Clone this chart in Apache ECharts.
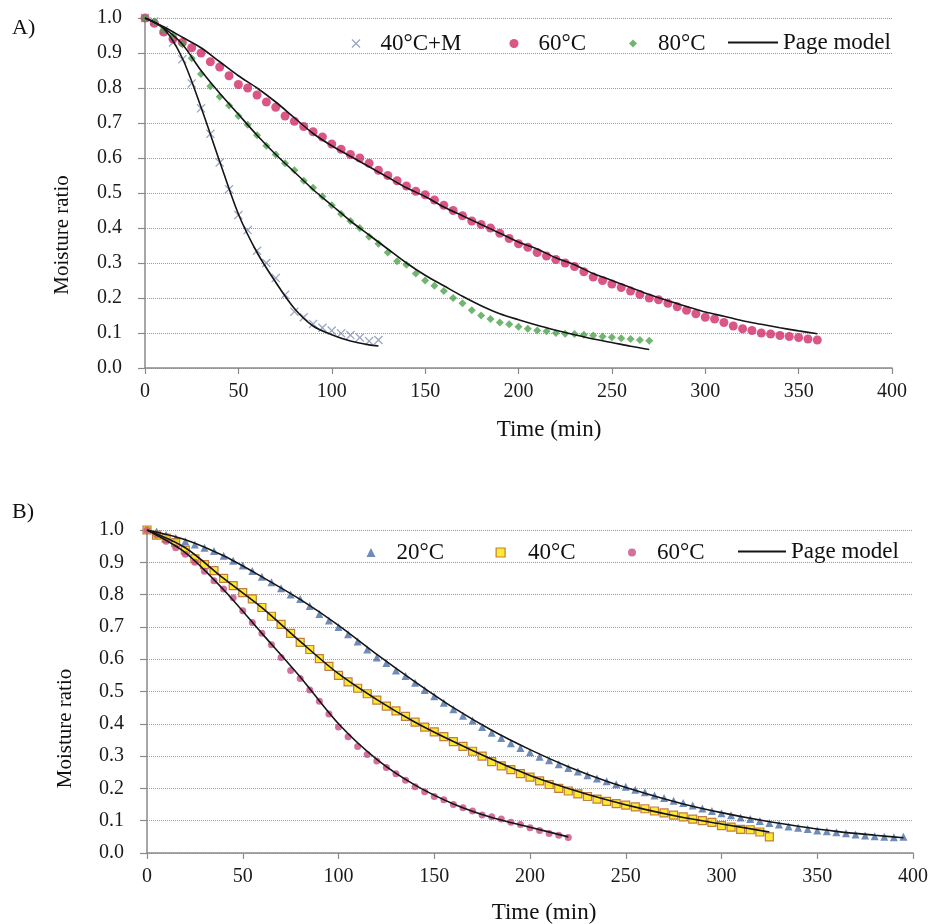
<!DOCTYPE html>
<html>
<head>
<meta charset="utf-8">
<script src="https://cdn.jsdelivr.net/npm/echarts/dist/echarts.min.js"></script>
<style>html,body{margin:0;padding:0;background:#fff}#c{width:930px;height:924px}</style>
</head>
<body>
<div id="c"></div>
<script>
// ---------- data ----------
const time5 = [0,5,10,15,20,25,30,35,40,45,50,55,60,65,70,75,80,85,90,95,100,105,110,115,120,125,130,135,140,145,150,155,160,165,170,175,180,185,190,195,200,205,210,215,220,225,230,235,240,245,250,255,260,265,270,275,280,285,290,295,300,305,310,315,320,325,330,335,340,345,350,355,360,365,370,375,380,385,390,395];
const xTicks = [0,50,100,150,200,250,300,350,400];

// Panel A measured moisture ratio
const mrA_40M = [1.0,0.99,0.965,0.93,0.882,0.813,0.742,0.669,0.587,0.511,0.437,0.394,0.335,0.30,0.257,0.209,0.161,0.145,0.126,0.115,0.107,0.099,0.094,0.087,0.077,0.08];
const mrA_60 = [1.0,0.985,0.96,0.94,0.93,0.915,0.90,0.875,0.86,0.835,0.81,0.80,0.78,0.76,0.745,0.72,0.705,0.69,0.675,0.66,0.64,0.625,0.61,0.60,0.585,0.565,0.55,0.535,0.52,0.505,0.495,0.48,0.465,0.45,0.435,0.42,0.41,0.40,0.385,0.37,0.355,0.345,0.33,0.32,0.31,0.30,0.29,0.275,0.26,0.25,0.24,0.23,0.22,0.21,0.20,0.195,0.185,0.175,0.165,0.155,0.145,0.14,0.13,0.12,0.112,0.107,0.10,0.097,0.093,0.09,0.087,0.083,0.08];
const mrA_80 = [1.0,0.99,0.965,0.95,0.925,0.885,0.84,0.805,0.775,0.75,0.72,0.695,0.665,0.635,0.61,0.585,0.565,0.535,0.515,0.49,0.465,0.44,0.42,0.40,0.375,0.355,0.33,0.305,0.295,0.27,0.25,0.235,0.22,0.20,0.185,0.165,0.15,0.14,0.13,0.125,0.118,0.112,0.107,0.105,0.10,0.098,0.097,0.095,0.093,0.09,0.088,0.085,0.083,0.08,0.078];
// Panel A Page model
const tPageA_40M = [0,10,20,30,40,50,60,70,80,90,100,110,120,125];
const pageA_40M = [1.0,0.97,0.885,0.745,0.59,0.44,0.33,0.245,0.17,0.12,0.095,0.077,0.066,0.063];
const tPageA_60 = [0,10,20,30,40,50,60,70,80,90,100,110,120,130,140,150,160,170,180,190,200,210,220,230,240,250,260,270,280,290,300,310,320,330,340,350,360];
const pageA_60 = [1.0,0.975,0.945,0.915,0.875,0.835,0.80,0.76,0.715,0.67,0.635,0.605,0.575,0.545,0.515,0.49,0.46,0.435,0.41,0.385,0.36,0.34,0.315,0.295,0.27,0.25,0.23,0.21,0.192,0.176,0.16,0.148,0.135,0.125,0.115,0.106,0.098];
const tPageA_80 = [0,10,20,30,40,50,60,70,80,90,100,110,120,130,140,150,160,170,180,190,200,210,220,230,240,250,260,270];
const pageA_80 = [1.0,0.972,0.925,0.85,0.785,0.725,0.665,0.61,0.56,0.51,0.465,0.42,0.38,0.34,0.30,0.265,0.235,0.205,0.178,0.155,0.138,0.122,0.108,0.095,0.083,0.073,0.062,0.053];

// Panel B measured moisture ratio
const mrB_20 = [1.0,0.995,0.985,0.975,0.965,0.955,0.945,0.935,0.92,0.905,0.89,0.873,0.855,0.838,0.82,0.80,0.786,0.765,0.74,0.72,0.70,0.677,0.655,0.63,0.605,0.588,0.565,0.548,0.527,0.505,0.485,0.465,0.445,0.425,0.41,0.39,0.372,0.356,0.34,0.325,0.312,0.298,0.287,0.275,0.263,0.252,0.241,0.231,0.222,0.213,0.205,0.196,0.188,0.178,0.17,0.162,0.155,0.147,0.138,0.13,0.123,0.117,0.11,0.105,0.099,0.093,0.088,0.082,0.078,0.074,0.07,0.067,0.064,0.061,0.057,0.054,0.052,0.05,0.049,0.05];
const mrB_40 = [1.0,0.984,0.975,0.961,0.938,0.911,0.893,0.874,0.85,0.828,0.806,0.787,0.76,0.733,0.708,0.68,0.652,0.63,0.602,0.578,0.55,0.53,0.51,0.493,0.473,0.455,0.44,0.423,0.405,0.39,0.375,0.36,0.345,0.33,0.315,0.30,0.283,0.27,0.258,0.246,0.235,0.223,0.212,0.20,0.192,0.183,0.175,0.167,0.16,0.153,0.148,0.143,0.137,0.13,0.124,0.117,0.112,0.105,0.10,0.095,0.085,0.08,0.073,0.072,0.065,0.05];
const mrB_60 = [1.0,0.985,0.965,0.945,0.925,0.9,0.872,0.843,0.817,0.79,0.75,0.714,0.68,0.645,0.605,0.565,0.54,0.505,0.47,0.43,0.39,0.36,0.33,0.305,0.285,0.265,0.245,0.225,0.205,0.19,0.175,0.165,0.15,0.14,0.13,0.118,0.112,0.105,0.095,0.088,0.078,0.07,0.06,0.055,0.048];
// Panel B Page model
const tPageB_20 = [0,20,40,60,80,100,120,140,160,180,200,220,240,260,280,300,320,340,360,380,395];
const pageB_20 = [1.0,0.97,0.92,0.855,0.785,0.705,0.615,0.53,0.45,0.38,0.32,0.267,0.222,0.185,0.152,0.125,0.102,0.083,0.067,0.055,0.047];
const tPageB_40 = [0,20,40,60,80,100,120,140,160,180,200,220,240,260,280,300,320,325];
const pageB_40 = [1.0,0.945,0.85,0.76,0.655,0.555,0.475,0.405,0.345,0.29,0.24,0.2,0.165,0.135,0.11,0.09,0.07,0.065];
const tPageB_60 = [0,20,40,60,80,100,120,140,160,180,200,220];
const pageB_60 = [1.0,0.93,0.815,0.68,0.545,0.40,0.29,0.21,0.152,0.11,0.08,0.05];

// ---------- helpers ----------
function pairs(ts, vs){ return vs.map((v,i)=>[ts[i], v]); }
const SERIF = '"Liberation Serif", "Times New Roman", serif';
const X_PATH = 'path://M0,1 L1,0 L5,4 L9,0 L10,1 L6,5 L10,9 L9,10 L5,6 L1,10 L0,9 L4,5 Z';
const C = {
  cross:'#7f8fb3', pinkA:'#d02c68', green:'#4ca24c',
  tri:'#4b6fa8', sqFill:'#ffe400', sqBorder:'#b0602a', pinkB:'#c94c86', line:'#151515'
};

function xAxisCfg(grid, padLeft, gap){
  return {
    gridIndex:grid, type:'value', min:0, max:400, interval:50,
    axisLine:{show:true, lineStyle:{color:'#8a8a8a', width:1.5}},
    axisTick:{show:true, length:6, lineStyle:{color:'#8a8a8a', width:1.2}},
    axisLabel:{margin:14, fontFamily:SERIF, fontSize:20, color:'#1a1a1a', customValues:xTicks},
    splitLine:{show:false},
    name:'Time (min)', nameLocation:'middle', nameGap:gap,
    nameTextStyle:{fontFamily:SERIF, fontSize:23, color:'#111', padding:[0,0,0,padLeft]}
  };
}
function yAxisCfg(grid, gap, padRight){
  return {
    gridIndex:grid, type:'value', min:0, max:1, interval:0.1,
    axisLine:{show:true, lineStyle:{color:'#8a8a8a', width:1.5}},
    axisTick:{show:true, length:7, lineStyle:{color:'#8a8a8a', width:1.2}},
    axisLabel:{margin:23, fontFamily:SERIF, fontSize:20, color:'#1a1a1a', formatter:v=>v.toFixed(1)},
    splitLine:{show:true, lineStyle:{color:'#9a9a9a', type:'dotted', width:1}},
    name:'Moisture ratio', nameLocation:'middle', nameRotate:90, nameGap:gap,
    nameTextStyle:{fontFamily:SERIF, fontSize:21, color:'#111', padding:[0,padRight,0,0]}
  };
}
function legendItem(item, left, top, w, h, padL){
  return {
    data:[item], left:left, top:top, itemWidth:w, itemHeight:h, padding:0,
    selectedMode:false, orient:'horizontal',
    textStyle:{fontFamily:SERIF, fontSize:23, color:'#111', padding:[0,0,0,padL]}
  };
}
function scatter(name, xi, ts, vs, symbol, size, style){
  return {name, type:'scatter', xAxisIndex:xi, yAxisIndex:xi, symbol, symbolSize:size,
    itemStyle:style, data:pairs(ts, vs), z:2};
}
function page(xi, ts, vs){
  return {name:'Page model', type:'line', xAxisIndex:xi, yAxisIndex:xi, smooth:0.3,
    symbol:'none', lineStyle:{color:C.line, width:1.6}, itemStyle:{color:C.line},
    data:pairs(ts, vs), z:5};
}
const pageLegend = {name:'Page model', icon:'rect', itemStyle:{color:C.line, borderWidth:0}};

const option = {
  animation:false,
  backgroundColor:'#ffffff',
  grid:[
    {left:145, top:18, width:747, height:350, containLabel:false, outerBoundsMode:'none'},
    {left:147, top:530, width:766, height:323, containLabel:false, outerBoundsMode:'none'}
  ],
  xAxis:[xAxisCfg(0, 61, 50), xAxisCfg(1, 28, 48)],
  yAxis:[yAxisCfg(0, 72, 84), yAxisCfg(1, 71, 74)],
  legend:[
    legendItem('40°C+M', 351.5, 32, 9, 9, 15),
    legendItem('60°C', 509.5, 32, 9, 9, 15),
    legendItem('80°C', 629, 32, 8, 8, 16),
    legendItem(pageLegend, 728, 31, 50, 2, 0),
    legendItem('20°C', 366.5, 541, 9, 9, 16),
    legendItem({name:'40°C', icon:'rect', itemStyle:{color:C.sqFill, borderColor:C.sqBorder, borderWidth:1.2}}, 495.5, 541, 9, 9, 18),
    legendItem({name:'60°C', icon:'circle', itemStyle:{color:C.pinkB, borderColor:C.pinkB}}, 628, 541, 8, 8, 16),
    legendItem(pageLegend, 738, 540, 48, 2, 0)
  ],
  graphic:[
    {type:'text', left:12, top:17, style:{text:'A)', font:'22px ' + SERIF, fill:'#111'}},
    {type:'text', left:12, top:501, style:{text:'B)', font:'22px ' + SERIF, fill:'#111'}}
  ],
  series:[
    scatter('40°C+M', 0, time5, mrA_40M, X_PATH, 9, {color:C.cross}),
    scatter('60°C', 0, time5, mrA_60, 'circle', 9, {color:C.pinkA}),
    scatter('80°C', 0, time5, mrA_80, 'diamond', 8, {color:C.green}),
    page(0, tPageA_40M, pageA_40M),
    page(0, tPageA_60, pageA_60),
    page(0, tPageA_80, pageA_80),
    scatter('20°C', 1, time5, mrB_20, 'triangle', 8, {color:C.tri}),
    scatter('40°C', 1, time5, mrB_40, 'rect', 8, {color:C.sqFill, borderColor:C.sqBorder, borderWidth:1.2}),
    scatter('60°C', 1, time5, mrB_60, 'circle', 7, {color:C.pinkB}),
    page(1, tPageB_20, pageB_20),
    page(1, tPageB_40, pageB_40),
    page(1, tPageB_60, pageB_60)
  ]
};
const chart = echarts.init(document.getElementById('c'), null, {renderer:'canvas'});
chart.setOption(option);
</script>
</body>
</html>
